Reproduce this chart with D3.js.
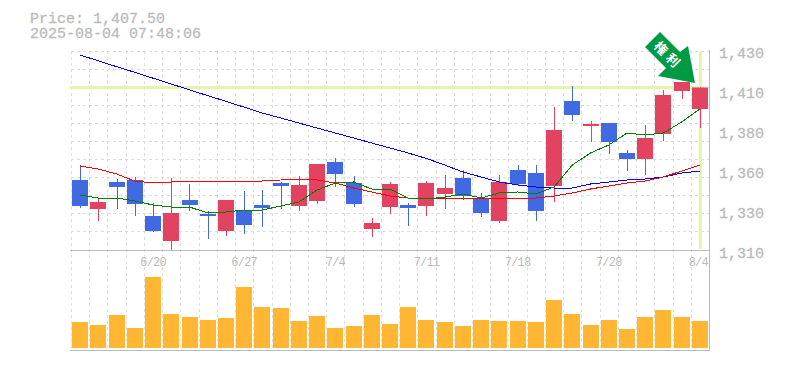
<!DOCTYPE html>
<html><head><meta charset="utf-8">
<script src="https://cdn.jsdelivr.net/npm/d3@7"></script>
<style>html,body{margin:0;padding:0;background:#fff}svg{display:block}
text{font-family:"Liberation Mono",monospace;fill:#bbb}</style></head>
<body><svg id="c" width="785" height="370"></svg>
<script>
const dates=["6/16","6/17","6/18","6/19","6/20","6/23","6/24","6/25","6/26","6/27","6/30","7/1","7/2","7/3","7/4","7/7","7/8","7/9","7/10","7/11","7/14","7/15","7/16","7/17","7/18","7/22","7/23","7/24","7/25","7/28","7/29","7/30","7/31","8/1","8/4"];
const labelled=["6/20","6/27","7/4","7/11","7/18","7/28","8/4"];
const open=[1352,1334.6,1350.8,1352,1330.4,1315.4,1340,1331.6,1321.4,1334,1337,1350.2,1336.4,1339.4,1362.8,1350.2,1322.6,1335.8,1337,1336.4,1343.6,1353.2,1340.6,1327.4,1358,1356.2,1348.4,1399.4,1384.4,1386.2,1368.2,1364.6,1379.6,1405.4,1394.6];
const close=[1336.4,1338.8,1347.8,1337.6,1321.4,1332.2,1337,1330.4,1340,1325,1335.2,1348.4,1349,1361.6,1355.6,1337.6,1326.2,1349.6,1335.2,1350.2,1347.2,1342.4,1332.2,1350.8,1349.6,1333.4,1382,1391,1385.6,1374.8,1364.6,1377.2,1403,1410.8,1407.5];
const high=[1361,1341.2,1352.6,1353.8,1338.2,1353.2,1349.6,1333.4,1340,1345.4,1346,1350.8,1354.4,1361.6,1365.2,1354.4,1329.2,1350.8,1338.2,1351.4,1355,1358,1344.2,1355,1361,1361,1395.8,1408.4,1387.4,1386.2,1370,1385,1406,1410.8,1407.8];
const low=[1335.2,1327.4,1334.6,1330.4,1320.8,1310,1333.4,1316.6,1318.4,1319.6,1323.8,1334.6,1333.4,1337.6,1347.8,1335.8,1317.8,1331.6,1324.4,1330.4,1334.6,1340,1329.8,1326.2,1348.4,1327.4,1338.8,1387.4,1374.8,1367.6,1357.4,1355,1375.4,1400.6,1383.2];
const maShort=[1343,1341.2,1341.2,1339.4,1337,1335.8,1335.8,1332.2,1332.8,1334,1334,1336.4,1338.8,1346,1350.2,1350.8,1346.6,1346.6,1341.2,1340.6,1341.8,1343.6,1341.2,1344.2,1344.8,1343.6,1347.8,1361,1368.2,1373,1380.2,1379,1380.2,1386.8,1394.6];
const maMid=[1360.4,1358.6,1355.6,1351.4,1350.2,1350.8,1351.4,1351.4,1351.4,1351.4,1351.4,1352,1352.6,1352,1350.2,1347.2,1344.8,1342.4,1341.2,1341.2,1341.2,1341.2,1341.2,1341.2,1341.2,1341.2,1342.4,1344.2,1346.6,1348.4,1350.2,1351.4,1353.8,1357.4,1361];
const maLong=[1427,1423.5,1420,1416.6,1413.1,1409.6,1406.1,1402.6,1399.2,1395.7,1392.2,1389.2,1386.2,1383.2,1380.2,1377.2,1374.2,1371.2,1368.2,1364.9,1361,1356.8,1353.8,1350.8,1349,1347.8,1347.2,1347.2,1349.6,1350.8,1352,1352.6,1353.8,1356.2,1357.4];
const volume=[26,23,33,20,71,34,31,28,30,61,41,40,27,32,20,22,33,24,41,28,26,22,28,27,27,26,48,34,23,28,19,31,38,31,27];
const priceTicks=[1430,1406,1382,1358,1334,1310];
const lastPrice=1407.5;
const titleLines=["Price: 1,407.50","2025-08-04 07:48:06"];
const arrowGlyphs=["権","利"];

const svg=d3.select("#c");
const x=d3.scaleBand().domain(dates).range([71,709]).paddingInner(0.125).paddingOuter(0.0625);
const cx=d=>x(d)+x.bandwidth()/2;
const y=d3.scaleLinear().domain([1310,1430]).range([250,50]);
const v=d3.scaleLinear().domain([0,80]).range([348,268]);
const gridX=d3.scaleLinear().domain([0,dates.length]).range([71,709]);
const gridXs=d3.range(dates.length);
const gridYs=d3.range(0,11).map(i=>51+i*18);

// grid
const grid=svg.append("g").attr("stroke","#ddd").attr("stroke-dasharray","3,3").attr("shape-rendering","crispEdges");
grid.selectAll(".v").data(gridXs).join("line").attr("x1",d=>Math.round(gridX(d))+.5).attr("x2",d=>Math.round(gridX(d))+.5).attr("y1",51).attr("y2",350);
grid.selectAll(".h").data(gridYs).join("line").attr("x1",71).attr("x2",709).attr("y1",d=>d+.5).attr("y2",d=>d+.5);

// axes frame
const frame=svg.append("g").attr("stroke","#bbb").attr("shape-rendering","crispEdges");
frame.append("line").attr("x1",70).attr("x2",710).attr("y1",250.5).attr("y2",250.5);
frame.append("line").attr("x1",70).attr("x2",710).attr("y1",350.5).attr("y2",350.5);
frame.append("line").attr("x1",709.5).attr("x2",709.5).attr("y1",50).attr("y2",351);

// current price cross
const lime="#e3f6a8";
svg.append("line").attr("x1",70).attr("x2",cx(dates[34])).attr("y1",y(lastPrice)).attr("y2",y(lastPrice)).attr("stroke",lime).attr("stroke-width",3);
svg.append("line").attr("x1",cx(dates[34])+.5).attr("x2",cx(dates[34])+.5).attr("y1",51).attr("y2",249).attr("stroke",lime).attr("stroke-width",3);

// volume
svg.append("g").attr("fill","#ffb733").selectAll("rect").data(dates).join("rect")
 .attr("x",d=>Math.round(x(d))).attr("width",16).attr("y",(d,i)=>v(volume[i])).attr("height",(d,i)=>v(0)-v(volume[i]));

// candles
const up="#e24360",down="#4169e1";
const col=i=>close[i]>=open[i]?up:down;
const candle=svg.append("g");
candle.selectAll(".w").data(dates).join("line").attr("stroke",(d,i)=>col(i)).attr("stroke-width",1).attr("shape-rendering","crispEdges")
 .attr("x1",d=>Math.round(cx(d))+.5).attr("x2",d=>Math.round(cx(d))+.5).attr("y1",(d,i)=>y(high[i])).attr("y2",(d,i)=>y(low[i]));
candle.selectAll(".b").data(dates).join("rect").attr("fill",(d,i)=>col(i))
 .attr("x",d=>Math.round(x(d))).attr("width",16).attr("y",(d,i)=>y(Math.max(open[i],close[i]))).attr("height",(d,i)=>Math.max(1,Math.abs(y(open[i])-y(close[i]))));

// moving averages
const lineGen=a=>d3.line().x((d,i)=>cx(dates[i])).y(d=>y(d))(a);
[[maLong,"#0000ff",1],[maMid,"#ff0000",1],[maShort,"#008000",1]].forEach(([a,c,w])=>{
 svg.append("path").attr("d",lineGen(a)).attr("fill","none").attr("stroke",c).attr("stroke-width",w).attr("shape-rendering","crispEdges");
});

// axes text
const ya=d3.axisRight(y).tickValues(priceTicks).tickSize(0).tickPadding(0).tickFormat(d=>d3.format(",")(Math.round(d/10)*10));
svg.append("g").attr("transform","translate(719,0)").call(ya).call(g=>g.select(".domain").remove())
 .selectAll("text").attr("font-size",15).attr("font-family","Liberation Mono").attr("dy",null).attr("y",7).style("fill","#bbb").style("stroke","#bbb").style("stroke-width",.3);
const xa=d3.axisBottom(x).tickValues(labelled).tickSize(0).tickPadding(0);
svg.append("g").attr("transform","translate(0,257)").call(xa).call(g=>g.select(".domain").remove())
 .selectAll("text").attr("font-size",12).attr("font-family","Liberation Mono").attr("letter-spacing",-0.8).attr("dy",null).attr("y",9)
 .attr("text-anchor",d=>d==="8/4"?"end":"middle").attr("x",d=>d==="8/4"?8:0).style("fill","#bbb");

// title
svg.selectAll(".t").data(titleLines).join("text").attr("x",30).attr("y",(d,i)=>23+i*15).attr("font-size",15).style("stroke","#bbb").style("stroke-width",.3).text(d=>d);

// arrow
svg.append("path").attr("d",d3.line()([[660,32],[645,47],[666,68],[658,76],[695,83],[688,46],[680,52]])+"Z").attr("fill","#009944");
svg.selectAll(".g").data(arrowGlyphs).join("text").attr("text-anchor","middle").attr("font-size",13)
 .style("font-family","'Noto Sans CJK JP'").style("font-weight",700).style("fill","#fff")
 .attr("transform",(d,i)=>`translate(${657.5+i*12},${51.5+i*12}) rotate(45)`).text(d=>d);
</script></body></html>
